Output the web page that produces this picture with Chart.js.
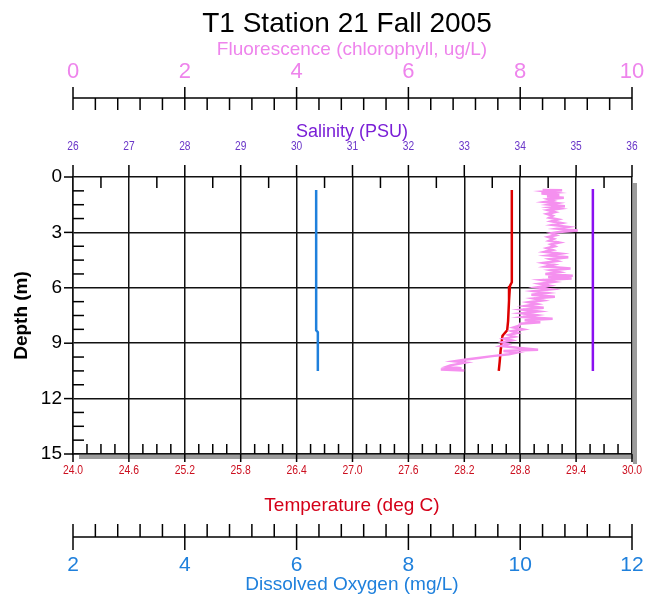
<!DOCTYPE html>
<html>
<head>
<meta charset="utf-8">
<script src="https://cdn.jsdelivr.net/npm/chart.js@4.4.0/dist/chart.umd.min.js"></script>
<style>
  body { margin: 0; background: #fff; }
  canvas { display: block; }
</style>
</head>
<body>
<canvas id="profile" width="646" height="600"></canvas>
<script>
// CTD cast, T1 station 21, fall 2005 -- depth profiles of four variables

const depthTicks = [0, 3, 6, 9, 12, 15];
const fluorTicks = [0, 2, 4, 6, 8, 10];
const salinityTicks = [26, 27, 28, 29, 30, 31, 32, 33, 34, 35, 36];
const tempTicks = ['24.0', '24.6', '25.2', '25.8', '26.4', '27.0', '27.6', '28.2', '28.8', '29.4', '30.0'];
const oxygenTicks = [2, 4, 6, 8, 10, 12];

// temperature (deg C)
const tempDepth = [0.7, 2.0, 4.0, 5.7, 5.9, 6.7, 7.8, 8.3, 8.6, 9.0, 9.4, 10.0, 10.5];
const tempValues = [28.71, 28.71, 28.71, 28.71, 28.69, 28.68, 28.67, 28.66, 28.61, 28.60, 28.59, 28.58, 28.57];

// salinity (PSU)
const salinityDepth = [0.65, 5.0, 10.5];
const salinityValues = [35.30, 35.30, 35.30];

// dissolved oxygen (mg/L)
const oxygenDepth = [0.7, 4.0, 8.3, 8.4, 10.5];
const oxygenValues = [6.35, 6.35, 6.35, 6.38, 6.38];

// fluorescence (chlorophyll, ug/L)
const fluorDepth = [
  0.70, 0.72, 0.78, 0.85, 0.90, 0.98, 1.05, 1.12, 1.20, 1.28,
  1.35, 1.42, 1.50, 1.58, 1.65, 1.72, 1.80, 1.90, 2.00, 2.10,
  2.20, 2.30, 2.40, 2.50, 2.60, 2.70, 2.80, 2.90, 2.98, 3.05,
  3.15, 3.25, 3.35, 3.45, 3.55, 3.65, 3.75, 3.85, 3.95, 4.05,
  4.15, 4.25, 4.35, 4.45, 4.55, 4.65, 4.75, 4.85, 4.95, 5.05,
  5.15, 5.25, 5.35, 5.42, 5.50, 5.58, 5.68, 5.78, 5.88, 5.98,
  6.08, 6.18, 6.28, 6.38, 6.48, 6.58, 6.68, 6.78, 6.88, 6.98,
  7.08, 7.18, 7.28, 7.38, 7.48, 7.58, 7.68, 7.76, 7.86, 7.95,
  8.05, 8.15, 8.25, 8.35, 8.45, 8.55, 8.65, 8.75, 8.85, 8.95,
  9.05, 9.15, 9.25, 9.35, 9.42, 9.50, 9.60, 9.70, 9.80, 9.90,
  9.98, 10.05, 10.12, 10.20, 10.28, 10.35, 10.42, 10.48
];
const fluorValues = [
  8.40, 8.75, 8.45, 8.62, 8.38, 8.70, 8.48, 8.78, 8.50, 8.58,
  8.44, 8.66, 8.52, 8.80, 8.55, 8.70, 8.50, 8.62, 8.48, 8.58,
  8.52, 8.68, 8.56, 8.74, 8.58, 8.85, 8.66, 9.03, 8.70, 8.55,
  8.64, 8.50, 8.60, 8.52, 8.70, 8.55, 8.62, 8.48, 8.58, 8.44,
  8.72, 8.50, 8.86, 8.54, 8.66, 8.42, 8.60, 8.46, 8.90, 8.55,
  8.70, 8.45, 8.94, 8.50, 8.92, 8.40, 8.60, 8.35, 8.52, 8.30,
  8.55, 8.25, 8.48, 8.20, 8.62, 8.24, 8.40, 8.15, 8.30, 8.10,
  8.42, 8.05, 8.32, 8.02, 8.28, 8.05, 8.58, 8.08, 8.36, 8.00,
  7.98, 7.88, 8.05, 7.85, 7.95, 7.80, 7.90, 7.72, 7.85, 7.68,
  7.78, 7.66, 7.95, 8.32, 7.70, 7.95, 7.80, 7.50, 7.25, 7.00,
  6.82, 7.02, 6.90, 6.75, 6.68, 6.95, 6.58, 7.00
];

const FONT = 'Arial, "Liberation Sans", sans-serif';
const toPoints = (depths, values) => depths.map((d, i) => ({ x: values[i], y: d }));

function line(ctx, x1, y1, x2, y2) {
  ctx.beginPath();
  ctx.moveTo(x1, y1);
  ctx.lineTo(x2, y2);
  ctx.stroke();
}

function label(ctx, str, x, y, font, color, align = 'center', squeeze = 1) {
  ctx.save();
  ctx.font = font;
  ctx.fillStyle = color;
  ctx.textAlign = align;
  ctx.textBaseline = 'middle';
  ctx.translate(x, y);
  ctx.scale(squeeze, 1);
  ctx.fillText(str, 0, 0);
  ctx.restore();
}

// axis decorations: the extra top/bottom scales, tick marks and titles
const profileAxes = {
  id: 'profileAxes',
  afterDraw(chart) {
    const ctx = chart.ctx;
    const a = chart.chartArea;
    const { xFluor, xSal, xTemp, xOxy, y } = chart.scales;
    ctx.save();

    // drop shadow of the frame
    ctx.fillStyle = '#9c9c9c';
    ctx.fillRect(a.right + 1, a.top + 6, 4, a.bottom - a.top + 4);
    ctx.fillRect(a.left + 6, a.bottom + 1, a.right - a.left - 1, 4);

    ctx.strokeStyle = '#000';
    ctx.lineWidth = 1.5;

    label(ctx, 'T1 Station 21 Fall 2005', 347, 24, '28px ' + FONT, '#000');

    // fluorescence scale
    const fy = 98;
    label(ctx, 'Fluorescence (chlorophyll, ug/L)', 352, 50, '19px ' + FONT, '#ee84ec');
    line(ctx, xFluor.getPixelForValue(0), fy, xFluor.getPixelForValue(10), fy);
    for (let i = 0; i <= 25; i++) {
      const px = xFluor.getPixelForValue(i * 0.4);
      if (i % 5 === 0) line(ctx, px, fy - 11, px, fy + 12);
      else line(ctx, px, fy, px, fy + 12);
    }
    fluorTicks.forEach(v => label(ctx, String(v), xFluor.getPixelForValue(v), 72, '22px ' + FONT, '#ee84ec'));

    // salinity scale on the top edge
    label(ctx, 'Salinity (PSU)', 352, 132, '18px ' + FONT, '#7a1fd6');
    salinityTicks.forEach(v => label(ctx, String(v), xSal.getPixelForValue(v), 147, '12px ' + FONT, '#6a36c8', 'center', 0.85));
    for (let i = 0; i <= 20; i++) {
      const px = xSal.getPixelForValue(26 + i * 0.5);
      if (i % 2 === 0) line(ctx, px, a.top - 12, px, a.top);
      else line(ctx, px, a.top, px, a.top + 11);
    }

    // depth axis
    for (let i = 0; i <= 20; i++) {
      const py = y.getPixelForValue(i * 0.75);
      if (i % 4 === 0) line(ctx, a.left - 9, py, a.left, py);
      else line(ctx, a.left, py, a.left + 11, py);
    }
    depthTicks.forEach(v => label(ctx, String(v), a.left - 11, y.getPixelForValue(v), '19px ' + FONT, '#000', 'right'));
    ctx.save();
    ctx.translate(22, (a.top + a.bottom) / 2);
    ctx.rotate(-Math.PI / 2);
    label(ctx, 'Depth (m)', 0, 0, 'bold 19px ' + FONT, '#000');
    ctx.restore();

    // temperature scale on the bottom edge
    for (let i = 0; i <= 40; i++) {
      const px = xTemp.getPixelForValue(24 + i * 0.15);
      if (i % 4 === 0) line(ctx, px, a.bottom, px, a.bottom + 8);
      else line(ctx, px, a.bottom - 10, px, a.bottom);
    }
    tempTicks.forEach(v => label(ctx, v, xTemp.getPixelForValue(Number(v)), 470, '13px ' + FONT, '#cc1020', 'center', 0.8));
    label(ctx, 'Temperature (deg C)', 352, 506, '19px ' + FONT, '#d40018');

    // dissolved oxygen scale
    const oy = 537;
    line(ctx, xOxy.getPixelForValue(2), oy, xOxy.getPixelForValue(12), oy);
    for (let i = 0; i <= 25; i++) {
      const px = xOxy.getPixelForValue(2 + i * 0.4);
      if (i % 5 === 0) line(ctx, px, oy - 13, px, oy + 13);
      else line(ctx, px, oy - 13, px, oy);
    }
    oxygenTicks.forEach(v => label(ctx, String(v), xOxy.getPixelForValue(v), 565, '21px ' + FONT, '#1f80dc'));
    label(ctx, 'Dissolved Oxygen (mg/L)', 352, 585, '19px ' + FONT, '#1f80dc');

    ctx.restore();
  }
};

const hidden = (min, max) => ({ type: 'linear', display: false, min, max });

new Chart(document.getElementById('profile'), {
  type: 'scatter',
  data: {
    datasets: [
      {
        label: 'Dissolved Oxygen',
        data: toPoints(oxygenDepth, oxygenValues),
        xAxisID: 'xOxy',
        borderColor: '#1f80dc'
      },
      {
        label: 'Fluorescence',
        data: toPoints(fluorDepth, fluorValues),
        xAxisID: 'xFluor',
        borderColor: '#f590ef'
      },
      {
        label: 'Temperature',
        data: toPoints(tempDepth, tempValues),
        xAxisID: 'xTemp',
        borderColor: '#dd0000'
      },
      {
        label: 'Salinity',
        data: toPoints(salinityDepth, salinityValues),
        xAxisID: 'xSal',
        borderColor: '#8a10f0'
      }
    ].map(ds => ({ ...ds, showLine: true, pointRadius: 0, borderWidth: 2.5, tension: 0 }))
  },
  options: {
    responsive: false,
    devicePixelRatio: 1,
    animation: false,
    layout: { padding: { left: 73, right: 14, top: 177, bottom: 146 } },
    plugins: { legend: { display: false }, tooltip: { enabled: false } },
    scales: {
      xTemp: {
        type: 'linear',
        position: 'bottom',
        min: 24,
        max: 30,
        ticks: { display: false, stepSize: 0.6 },
        grid: { color: '#111', lineWidth: 1.5, drawTicks: false },
        border: { color: '#111', width: 1.5 }
      },
      xFluor: hidden(0, 10),
      xSal: hidden(26, 36),
      xOxy: hidden(2, 12),
      y: {
        type: 'linear',
        reverse: true,
        min: 0,
        max: 15,
        ticks: { display: false, stepSize: 3 },
        grid: { color: '#111', lineWidth: 1.5, drawTicks: false },
        border: { color: '#111', width: 1.5 }
      }
    }
  },
  plugins: [profileAxes]
});
</script>
</body>
</html>
